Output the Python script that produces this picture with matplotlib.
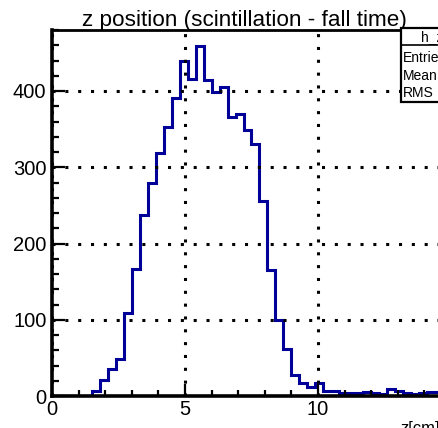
import numpy as np
import matplotlib
matplotlib.use("Agg")
import matplotlib.pyplot as plt
from matplotlib.patches import Rectangle
from matplotlib.ticker import MultipleLocator

plt.rcParams['font.family'] = ['Liberation Sans', 'DejaVu Sans']

# histogram h_z: 50 bins of 0.3 cm from 0 to 15
bin_edges = np.linspace(0, 15, 51)
counts = [0, 0, 0, 0, 0, 7, 21, 36, 49, 109,
          167, 237, 280, 319, 353, 391, 439, 416, 459, 415,
          399, 405, 366, 370, 349, 330, 256, 165, 100, 62,
          28, 17, 12, 17, 7, 6, 4, 4, 4, 5,
          4, 3, 9, 6, 4, 3, 4, 5, 5, 4]

title = "z position (scintillation - fall time)"
stat_labels = ["Entries", "Mean", "RMS"]

W, H = 438, 428
fig = plt.figure(figsize=(W / 100, H / 100), dpi=100)
# frame runs past the right edge of the picture (cropped pad)
ax = fig.add_axes([52 / W, 1 - 396 / H, (15 * 26.6) / W, (396 - 30) / H])

ax.stairs(counts, bin_edges, color="#000099", lw=2.2)

ax.set_xlim(0, 15)
ax.set_ylim(0, 480)
ax.xaxis.set_major_locator(MultipleLocator(5))
ax.xaxis.set_minor_locator(MultipleLocator(1))
ax.yaxis.set_major_locator(MultipleLocator(100))
ax.yaxis.set_minor_locator(MultipleLocator(20))

ax.grid(True, which="major", color="black", lw=2.2, linestyle=(0, (1, 3.2)))
ax.tick_params(which="both", direction="in", width=1.6, labelsize=14.5,
               top=False, right=False)
ax.tick_params(axis="y", which="major", length=9, pad=4)
ax.tick_params(axis="y", which="minor", length=5)
ax.tick_params(axis="x", which="major", length=9, pad=3)
ax.tick_params(axis="x", which="minor", length=4)
for side in ["left", "bottom"]:
    ax.spines[side].set_linewidth(2.6)
ax.spines["top"].set_linewidth(2)

fig.text(244 / W, 1 - 26 / H, title, ha="center", va="baseline", fontsize=16.2)
fig.text(400 / W, 1 - 433 / H, "z[cm]", ha="left", va="baseline", fontsize=12)

# stats box (cut by the picture edge)
box = Rectangle((401 / W, 1 - 102 / H), 60 / W, 74 / H, transform=fig.transFigure,
                facecolor="white", edgecolor="black", lw=1.6, zorder=5)
fig.patches.append(box)
fig.add_artist(plt.Line2D([401 / W, 1], [1 - 45 / H, 1 - 45 / H],
                          transform=fig.transFigure, color="black", lw=1.2, zorder=6))
fig.text(421 / W, 1 - 37 / H, "h_z", ha="left", va="center", fontsize=10, zorder=7)
for i, lab in enumerate(stat_labels):
    fig.text(403 / W, 1 - (58 + 17.5 * i) / H, lab, ha="left", va="center",
             fontsize=10, zorder=7)

fig.savefig("out.png", dpi=100)
